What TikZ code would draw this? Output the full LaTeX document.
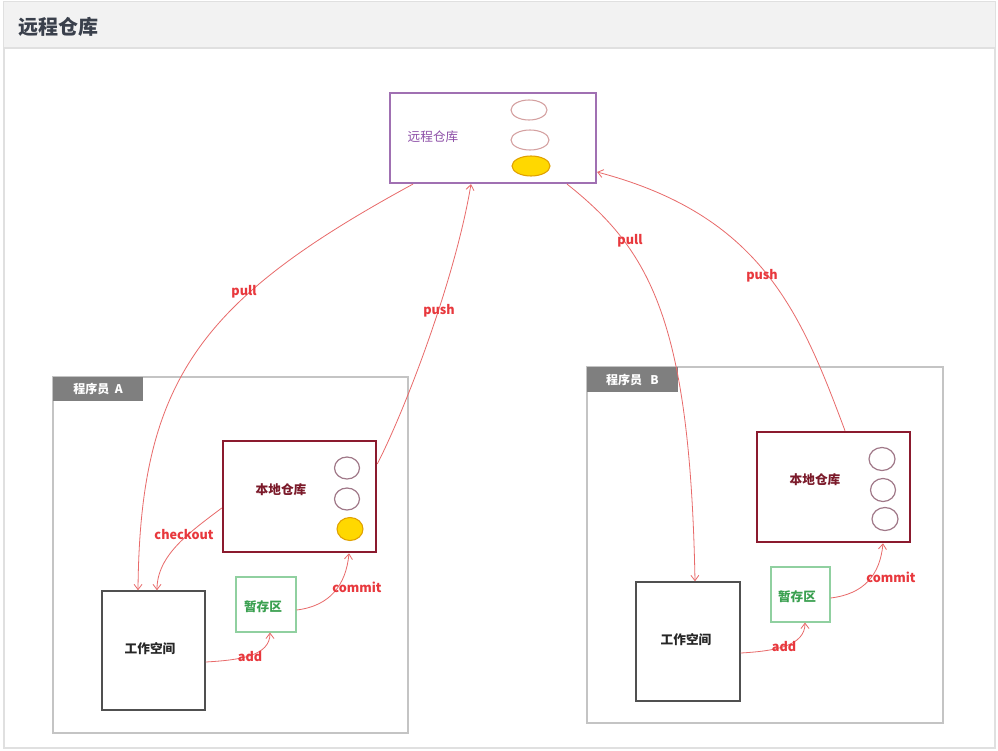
\documentclass[tikz,border=0pt]{standalone}
\usepackage{fontspec}
\setmainfont{Noto Sans CJK SC}
\usetikzlibrary{arrows.meta,shapes.geometric}
\definecolor{hdrbg}{HTML}{F2F2F2}
\definecolor{hdrline}{HTML}{E0E0E0}
\definecolor{titlec}{HTML}{3A404C}
\definecolor{remc}{HTML}{A070B2}
\definecolor{remtxt}{HTML}{8E50A8}
\definecolor{ovl}{HTML}{D4A0A0}
\definecolor{gold}{HTML}{FFD800}
\definecolor{goldline}{HTML}{E0A000}
\definecolor{locc}{HTML}{8B1A2E}
\definecolor{loctxt}{HTML}{7B1A2A}
\definecolor{locov}{HTML}{A07888}
\definecolor{framec}{HTML}{C4C4C4}
\definecolor{tabc}{HTML}{7F7F7F}
\definecolor{wsc}{HTML}{505050}
\definecolor{stgc}{HTML}{90D0A0}
\definecolor{stgtxt}{HTML}{3AA050}
\definecolor{arrc}{HTML}{E86A6A}
\definecolor{labc}{HTML}{E8383D}
\tikzset{
  pxbox/.style 2 args={rectangle, inner sep=0pt, minimum width=#1*0.75pt, minimum height=#2*0.75pt},
  frame/.style={draw=framec, line width=1.2pt},
  tab/.style={fill=tabc, text=white, font=\bfseries\fontsize{9}{10}\selectfont},
  remote/.style={draw=remc, line width=1.6pt},
  local/.style={draw=locc, line width=1.9pt},
  work/.style={draw=wsc, line width=1.1pt},
  stage/.style={draw=stgc, line width=0.8pt},
  ov/.style={ellipse, draw=ovl, line width=0.8pt, inner sep=0pt},
  lov/.style={ellipse, draw=locov, line width=0.9pt, inner sep=0pt},
  gov/.style={ellipse, draw=goldline, fill=gold, line width=0.8pt, inner sep=0pt},
  conn/.style={draw=arrc, line width=0.6pt, -{Straight Barb[length=4pt,width=6pt]}},
  lab/.style={text=labc, font=\bfseries\fontsize{9.5}{11}\selectfont, inner sep=0pt},
  boxtxt/.style={font=\bfseries\fontsize{9.5}{11}\selectfont, inner sep=0pt},
}
\begin{document}
\begin{tikzpicture}[x=0.75pt,y=-0.75pt]
\useasboundingbox (0,0) rectangle (998,750);
% page background and header
\fill[white] (0,0) rectangle (998,750);
\draw[hdrline, line width=1pt, fill=white] (4,2) rectangle (995,748);
\fill[hdrbg] (4,2) rectangle (995,48);
\draw[hdrline, line width=1pt] (4,48) -- (995,48);
\node[anchor=west, text=titlec, font=\bfseries\fontsize{15}{17}\selectfont, inner sep=0pt] (title) at (18,27) {远程仓库};

% remote repository
\node[pxbox={206}{90}, remote] (rem) at (493,138) {};
\node[inner sep=0pt, text=remtxt, font=\fontsize{9.5}{11}\selectfont] (remt) at (433,137) {远程仓库};
\node[ov, minimum width=36*0.75pt, minimum height=20*0.75pt] (re1) at (529,110) {};
\node[ov, minimum width=38*0.75pt, minimum height=20*0.75pt] (re2) at (530,140) {};
\node[gov, minimum width=38*0.75pt, minimum height=20*0.75pt] (re3) at (531,166) {};

% programmer A
\node[pxbox={355}{356}, frame] (fa) at (230.5,555) {};
\node[pxbox={90}{24}, tab] (ta) at (98,389) {程序员\ \ A};
\node[pxbox={153}{111}, local] (la) at (299.5,496.5) {};
\node[boxtxt, text=loctxt] (lat) at (281,490) {本地仓库};
\node[lov, minimum width=25*0.75pt, minimum height=22*0.75pt] (la1) at (347,468) {};
\node[lov, minimum width=25*0.75pt, minimum height=22*0.75pt] (la2) at (347,499) {};
\node[gov, minimum width=26*0.75pt, minimum height=23*0.75pt] (la3) at (350,529) {};
\node[pxbox={103}{119}, work] (wa) at (153.5,650.5) {};
\node[boxtxt, text=black!85] (wat) at (150,649) {工作空间};
\node[pxbox={60}{55}, stage] (sa) at (266,604.5) {};
\node[boxtxt, text=stgtxt] (sat) at (263,607) {暂存区};

% programmer B
\node[pxbox={356}{356}, frame] (fb) at (765,545) {};
\node[pxbox={91}{25}, tab] (tb) at (632.5,379.5) {程序员\ \ \ B};
\node[pxbox={153}{110}, local] (lb) at (833.5,487) {};
\node[boxtxt, text=loctxt] (lbt) at (815,480) {本地仓库};
\node[lov, minimum width=26*0.75pt, minimum height=23*0.75pt] (lb1) at (882,459) {};
\node[lov, minimum width=25*0.75pt, minimum height=23*0.75pt] (lb2) at (883,490) {};
\node[lov, minimum width=26*0.75pt, minimum height=23*0.75pt] (lb3) at (885,519) {};
\node[pxbox={104}{119}, work] (wb) at (688,641.5) {};
\node[boxtxt, text=black!85] (wbt) at (686,640) {工作空间};
\node[pxbox={59}{55}, stage] (sb) at (800.5,594.5) {};
\node[boxtxt, text=stgtxt] (sbt) at (797,597) {暂存区};

% connectors A
\draw[conn] (413,0 |- rem.south) .. controls (200,300) and (140,380) .. (138,0 |- wa.north);
\draw[conn] (la.east |- 0,464) .. controls (405,410) and (455,280) .. (471,0 |- rem.south);
\draw[conn] (la.west |- 0,508) .. controls (190,532) and (157,555) .. (157,0 |- wa.north);
\draw[conn] (wa.east |- 0,662) .. controls (240,660) and (270,656) .. (270,0 |- sa.south);
\draw[conn] (sa.east |- 0,610) .. controls (330,606) and (346,585) .. (349,0 |- la.south);

% connectors B
\draw[conn] (567,0 |- rem.south) .. controls (650,250) and (690,320) .. (695,0 |- wb.north);
\draw[conn] (845,0 |- lb.north) .. controls (800,310) and (760,215) .. (rem.east |- 0,172);
\draw[conn] (wb.east |- 0,653) .. controls (775,651) and (805,646) .. (805,0 |- sb.south);
\draw[conn] (sb.east |- 0,598) .. controls (864,594) and (880,575) .. (883,0 |- lb.south);

% labels
\node[lab] (pa) at (244,292) {pull};
\node[lab] (psa) at (439,311) {push};
\node[lab] (ca) at (184,535) {checkout};
\node[lab] (aa) at (250,657) {add};
\node[lab] (cma) at (357,587) {commit};
\node[lab] (pb) at (630,241) {pull};
\node[lab] (psb) at (762,276) {push};
\node[lab] (ab) at (784,647) {add};
\node[lab] (cmb) at (891,577) {commit};
\end{tikzpicture}
\end{document}
